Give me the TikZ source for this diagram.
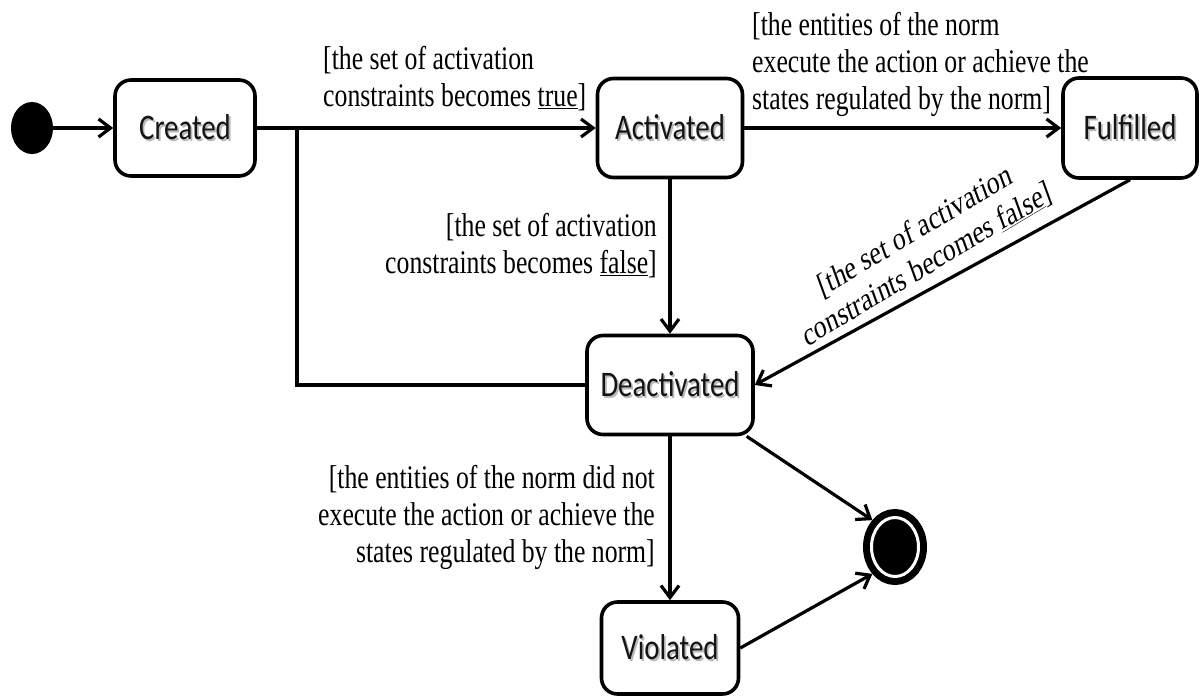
\documentclass[tikz,border=0pt]{standalone}
\usepackage{graphicx}
\usepackage{fontspec}
\setmainfont{Liberation Serif}
\newfontfamily\statefont{Carlito}
\usetikzlibrary{arrows.meta,shapes.geometric}

% guard text: serif, slightly condensed, one column with the given alignment
\newcommand{\guardtext}[2]{%
  \scalebox{0.78}[1]{\fontsize{33}{37}\selectfont
    \begin{tabular}[t]{@{}#1@{}}#2\end{tabular}}}
% state name with a soft grey drop shadow
\newcommand{\statelabel}[1]{%
  \scalebox{0.8}[1]{\fontsize{36}{42}\selectfont\statefont
    \makebox[0pt][l]{\hspace{2.2pt}\raisebox{-2.2pt}{\color{black!28}#1}}%
    \color{black!92}#1}}

\begin{document}
\begin{tikzpicture}[x=1pt,y=-1pt,
  state/.style={draw=black, line width=3.6pt, rounded corners=16pt,
    fill=white, inner sep=0pt, align=center},
  flow/.style={line width=3.2pt, -{Straight Barb[length=12pt,width=18pt]}},
  plain/.style={line width=3.2pt},
  guard/.style={inner sep=0pt},
  initial/.style={ellipse, fill=black, minimum width=42pt,
    minimum height=52pt, inner sep=0pt},
  final/.style={ellipse, draw=black, fill=black, line width=7pt,
    double=white, double distance=3pt, minimum width=47pt,
    minimum height=59pt, inner sep=0pt, outer sep=8.5pt}]

\fill[white] (0,0) rectangle (1202,696);
\useasboundingbox (0,0) rectangle (1202,696);

% states
\node[initial] (init) at (32,128) {};
\node[state, minimum width=140pt, minimum height=96pt] (created) at (185,128) {\statelabel{Created}};
\node[state, minimum width=145pt, minimum height=99pt] (activated) at (670,128) {\statelabel{Activated}};
\node[state, minimum width=134pt, minimum height=100pt] (fulfilled) at (1130,128) {\statelabel{Fulfilled}};
\node[state, minimum width=166pt, minimum height=99pt] (deactivated) at (670,385) {\statelabel{Deactivated}};
\node[state, minimum width=137pt, minimum height=92pt] (violated) at (670,648) {\statelabel{Violated}};
\node[final] (final) at (895,547) {};

% transitions
\draw[flow] (init) -- (created);
\draw[flow] (created) -- (activated);
\coordinate (split) at (297,128);
\draw[plain] (split) |- (deactivated.west);
\draw[flow] (activated) -- (fulfilled);
\draw[flow] (activated) -- (deactivated);
\draw[flow] (fulfilled.south) -- (deactivated.east);
\draw[flow] (deactivated) -- (violated);
\draw[flow] (deactivated) -- (final.north west);
\draw[flow] (violated.east) -- (final.south west);

% guards
\node[guard, anchor=base west] (gtrue) at (323,69)
  {\guardtext{l}{[the set of activation\\constraints becomes \underline{true}]}};
\node[guard, anchor=base west] (gdone) at (752,35)
  {\guardtext{l}{[the entities of the norm\\execute the action or achieve the\\states regulated by the norm]}};
\node[guard, anchor=base east] (gfalse) at (657,236)
  {\guardtext{r}{[the set of activation\\constraints becomes \underline{false}]}};
\node[guard, anchor=base east] (gmiss) at (655,488)
  {\guardtext{r}{[the entities of the norm did not\\execute the action or achieve the\\states regulated by the norm]}};
\node[guard] (gfalse2) at (922,250)
  {\scalebox{0.78}[1]{\rotatebox{25}{\fontsize{33}{37}\selectfont
    \begin{tabular}{@{}c@{}}[the set of activation\\constraints becomes \underline{false}]\end{tabular}}}};
\end{tikzpicture}
\end{document}
